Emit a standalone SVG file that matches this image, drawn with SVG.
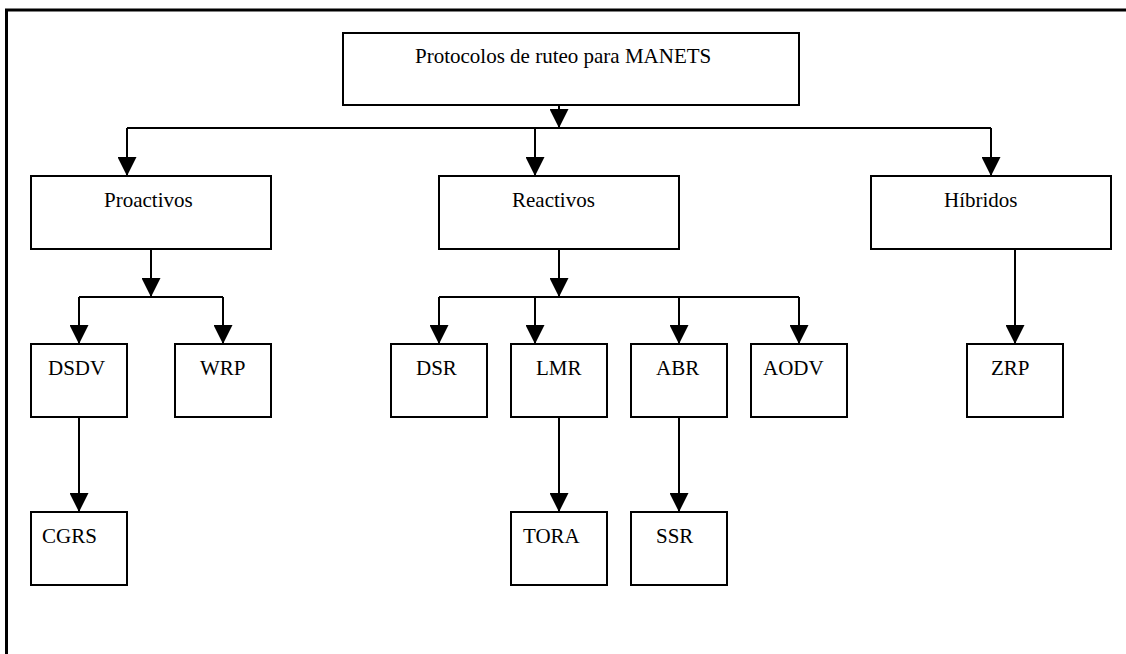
<svg xmlns="http://www.w3.org/2000/svg" width="1126" height="654" viewBox="0 0 1126 654">
<style>
.box{fill:#fff;stroke:#000;stroke-width:2}
.lbl{font-family:"Liberation Serif","Times New Roman",serif;font-size:21px;fill:#000}
.ln{fill:none;stroke:#000;stroke-width:2}
.arr{fill:none;stroke:#000;stroke-width:2;marker-end:url(#ah)}
</style>
<defs>
<marker id="ah" viewBox="0 0 20 20" refX="20" refY="10" markerWidth="20" markerHeight="19" markerUnits="userSpaceOnUse" orient="auto">
<path d="M0,0 L20,10 L0,20 z" fill="#000"/>
</marker>
</defs>
<rect width="1126" height="654" fill="#fff"/>
<path d="M6.5,654 V10 H1126" fill="none" stroke="#000" stroke-width="3"/>
<g id="connectors">
<path class="arr" d="M559,105 V128"/>
<path class="ln" d="M127,128 H991"/>
<path class="arr" d="M127,128 V176"/>
<path class="arr" d="M535,128 V176"/>
<path class="arr" d="M991,128 V176"/>
<path class="arr" d="M151,249 V297"/>
<path class="ln" d="M79,297 H223"/>
<path class="arr" d="M79,297 V344"/>
<path class="arr" d="M223,297 V344"/>
<path class="arr" d="M79,417 V512"/>
<path class="arr" d="M559,249 V297"/>
<path class="ln" d="M439,297 H799"/>
<path class="arr" d="M439,297 V344"/>
<path class="arr" d="M535,297 V344"/>
<path class="arr" d="M679,297 V344"/>
<path class="arr" d="M799,297 V344"/>
<path class="arr" d="M559,417 V512"/>
<path class="arr" d="M679,417 V512"/>
<path class="arr" d="M1015,249 V344"/>
</g>
<g id="root"><rect class="box" x="343" y="33" width="456" height="72"/><text class="lbl" x="415" y="63">Protocolos de ruteo para MANETS</text></g>
<g id="proactivos"><rect class="box" x="31" y="176" width="240" height="73"/><text class="lbl" x="104" y="207">Proactivos</text></g>
<g id="reactivos"><rect class="box" x="439" y="176" width="240" height="73"/><text class="lbl" x="512" y="207">Reactivos</text></g>
<g id="hibridos"><rect class="box" x="871" y="176" width="240" height="73"/><text class="lbl" x="944" y="207">Híbridos</text></g>
<g id="dsdv"><rect class="box" x="31" y="344" width="96" height="73"/><text class="lbl" x="48" y="375">DSDV</text></g>
<g id="wrp"><rect class="box" x="175" y="344" width="96" height="73"/><text class="lbl" x="200" y="375">WRP</text></g>
<g id="cgrs"><rect class="box" x="31" y="512" width="96" height="73"/><text class="lbl" x="42" y="543">CGRS</text></g>
<g id="dsr"><rect class="box" x="391" y="344" width="96" height="73"/><text class="lbl" x="416" y="375">DSR</text></g>
<g id="lmr"><rect class="box" x="511" y="344" width="96" height="73"/><text class="lbl" x="536" y="375">LMR</text></g>
<g id="abr"><rect class="box" x="631" y="344" width="96" height="73"/><text class="lbl" x="656" y="375">ABR</text></g>
<g id="aodv"><rect class="box" x="751" y="344" width="96" height="73"/><text class="lbl" x="763" y="375">AODV</text></g>
<g id="tora"><rect class="box" x="511" y="512" width="96" height="73"/><text class="lbl" x="523" y="543">TORA</text></g>
<g id="ssr"><rect class="box" x="631" y="512" width="96" height="73"/><text class="lbl" x="656" y="543">SSR</text></g>
<g id="zrp"><rect class="box" x="967" y="344" width="96" height="73"/><text class="lbl" x="991" y="375">ZRP</text></g>
</svg>
